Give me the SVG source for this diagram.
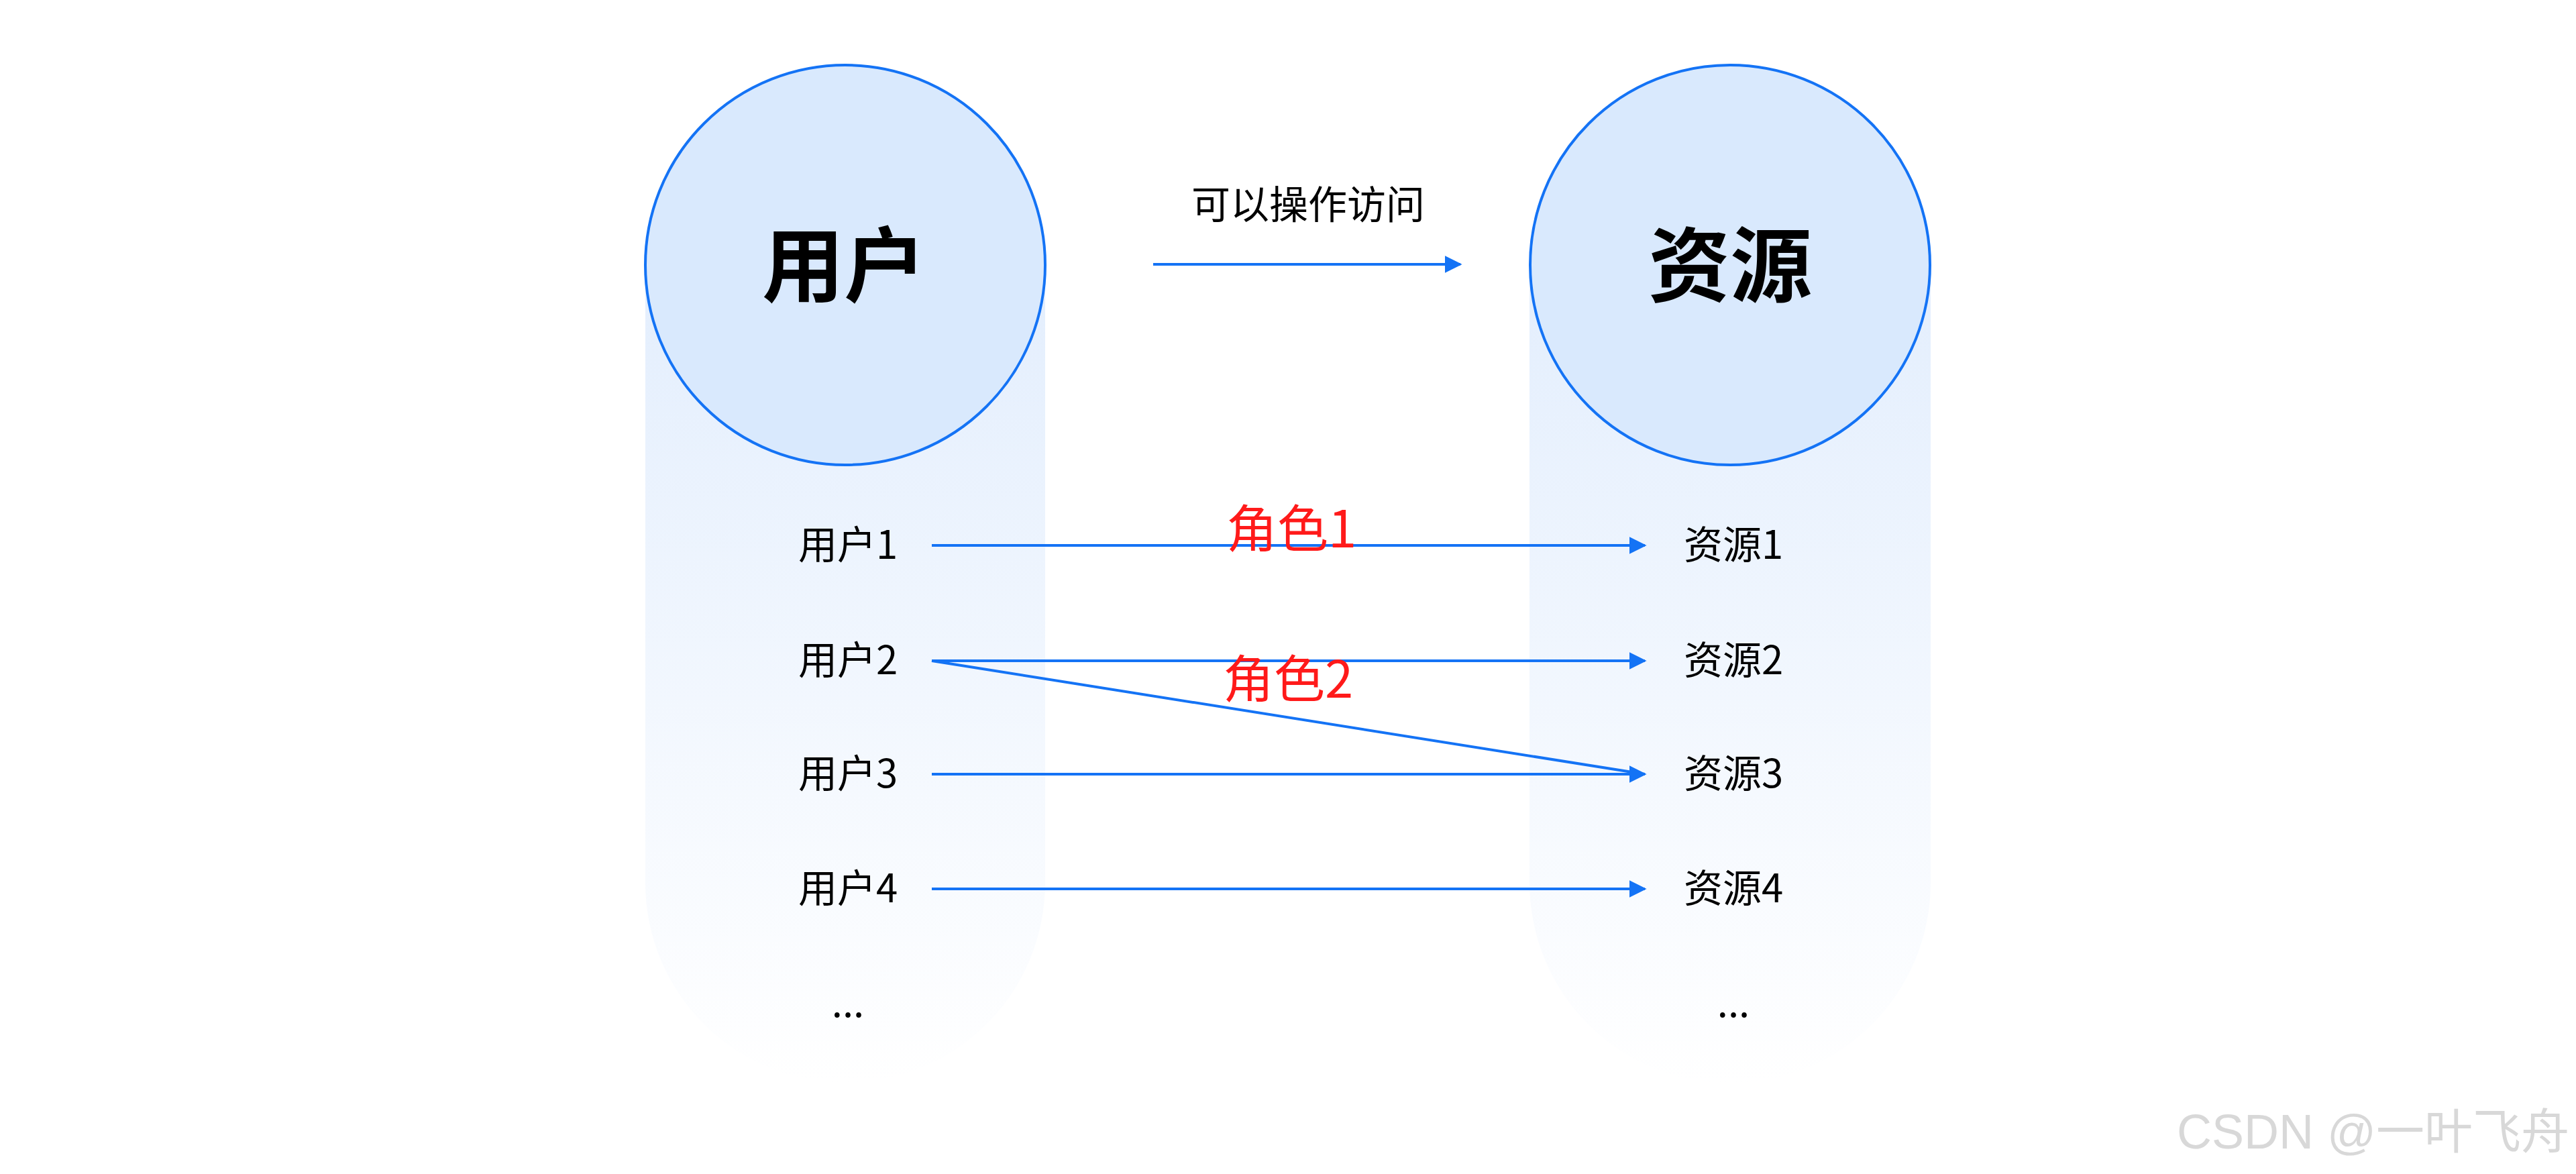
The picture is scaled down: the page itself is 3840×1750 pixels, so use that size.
<svg xmlns="http://www.w3.org/2000/svg" width="3840" height="1750" viewBox="0 0 3840 1750">
<defs>
<linearGradient id="col" x1="0" y1="0" x2="0" y2="1">
<stop offset="0" stop-color="#e3eefd"/>
<stop offset="1" stop-color="#ffffff"/>
</linearGradient>
<marker id="ah" markerWidth="10" markerHeight="10" refX="9" refY="5" orient="auto" markerUnits="userSpaceOnUse" viewBox="0 0 10 10">
<path d="M0,0 L10,5 L0,10 z" fill="#1473f5"/>
</marker>
<marker id="ahs" viewBox="0 0 10 10" refX="9" refY="5" markerWidth="26" markerHeight="26" orient="auto" markerUnits="userSpaceOnUse">
<path d="M0,0 L10,5 L0,10 z" fill="#1473f5"/>
</marker>
</defs>
<style>
.t{font-family:"Noto Sans CJK SC","Liberation Sans",sans-serif;fill:#000;text-anchor:middle}
.lbl{font-size:58px}
.big{font-size:122px;font-weight:bold}
.role{font-size:76px;fill:#ff1a1a}
.ln{stroke:#1473f5;stroke-width:4;fill:none}
</style>
<rect width="3840" height="1750" fill="#fff"/>
<g id="users">
<path d="M962,395 H1558 V1316 A298,298 0 0 1 962,1316 Z" fill="url(#col)"/>
<circle cx="1260" cy="395" r="298" fill="#d9e9fd" stroke="#1473f5" stroke-width="4"/>
<text class="t big" x="1258" y="440">用户</text>
<text class="t lbl" x="1264" y="833">用户1</text>
<text class="t lbl" x="1264" y="1005">用户2</text>
<text class="t lbl" x="1264" y="1174">用户3</text>
<text class="t lbl" x="1264" y="1345">用户4</text>
<text class="t lbl" x="1264" y="1516">...</text>
</g>
<g id="resources">
<path d="M2280,395 H2878 V1316 A299,299 0 0 1 2280,1316 Z" fill="url(#col)"/>
<circle cx="2579" cy="395" r="298" fill="#d9e9fd" stroke="#1473f5" stroke-width="4"/>
<text class="t big" x="2579" y="440">资源</text>
<text class="t lbl" x="2584" y="833">资源1</text>
<text class="t lbl" x="2584" y="1005">资源2</text>
<text class="t lbl" x="2584" y="1174">资源3</text>
<text class="t lbl" x="2584" y="1345">资源4</text>
<text class="t lbl" x="2584" y="1516">...</text>
</g>
<g id="connectors">
<line class="ln" x1="1719" y1="394" x2="2177" y2="394" stroke-width="6" marker-end="url(#ahs)"/>
<text class="t lbl" x="1950" y="326">可以操作访问</text>
<line class="ln" x1="1389" y1="813" x2="2452" y2="813" marker-end="url(#ahs)"/>
<line class="ln" x1="1389" y1="985" x2="2452" y2="985" marker-end="url(#ahs)"/>
<line class="ln" x1="1389" y1="985" x2="2452" y2="1154"/>
<line class="ln" x1="1389" y1="1154" x2="2452" y2="1154" marker-end="url(#ahs)"/>
<line class="ln" x1="1389" y1="1325" x2="2452" y2="1325" marker-end="url(#ahs)"/>
<text class="t role" x="1925" y="816">角色1</text>
<text class="t role" x="1920" y="1040">角色2</text>
</g>
<text x="3830" y="1712" font-family="'Liberation Sans','Noto Sans CJK SC',sans-serif" font-size="72" fill="#d8d8d8" text-anchor="end">CSDN @一叶飞舟</text>
</svg>
